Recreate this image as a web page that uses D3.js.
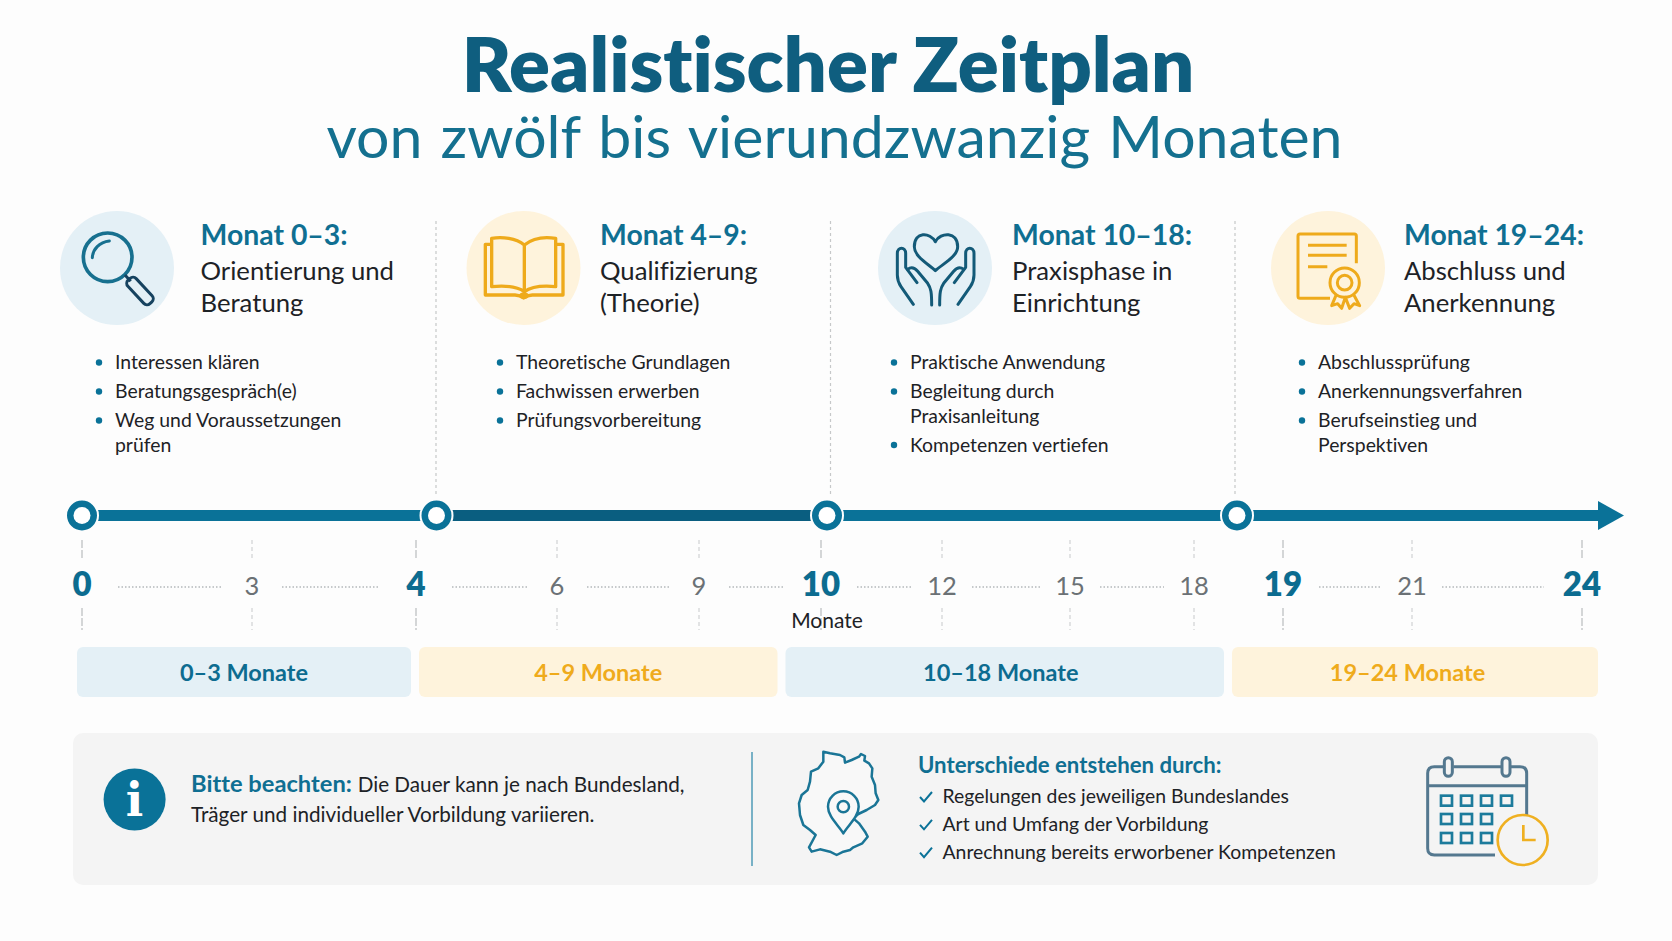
<!DOCTYPE html>
<html lang="de">
<head>
<meta charset="utf-8">
<title>Realistischer Zeitplan</title>
<script src="https://cdn.jsdelivr.net/npm/d3@7"></script>
<style>
  html, body { margin: 0; padding: 0; background: #fdfdfd; }
  svg { display: block; }
  text { font-family: Lato, "Open Sans", sans-serif; fill: #1d2226; font-variant-ligatures: none; }
</style>
</head>
<body>
<div id="chart"></div>
<script>
// --- data ---
const titleMain = "Realistischer Zeitplan";
const titleSub = "von zwölf bis vierundzwanzig Monaten";

const stageHeads = ["Monat 0–3:", "Monat 4–9:", "Monat 10–18:", "Monat 19–24:"];
const stageNames = [["Orientierung und", "Beratung"], ["Qualifizierung", "(Theorie)"], ["Praxisphase in", "Einrichtung"], ["Abschluss und", "Anerkennung"]];
const stageBullets = [
    [["Interessen klären"], ["Beratungsgespräch(e)"], ["Weg und Voraussetzungen", "prüfen"]],
    [["Theoretische Grundlagen"], ["Fachwissen erwerben"], ["Prüfungsvorbereitung"]],
    [["Praktische Anwendung"], ["Begleitung durch", "Praxisanleitung"], ["Kompetenzen vertiefen"]],
    [["Abschlussprüfung"], ["Anerkennungsverfahren"], ["Berufseinstieg und", "Perspektiven"]]
];
const stageStarts = [0, 4, 10, 19];
const timelineEnd = 24;
const tickMonths = [0, 3, 4, 6, 9, 10, 12, 15, 18, 19, 21, 24];
const majorMonths = [0, 4, 10, 19, 24];
const bandLabels = ["0–3 Monate", "4–9 Monate", "10–18 Monate", "19–24 Monate"];
const bandEdges = [0, 4, 10, 19, 25];
const axisLabel = "Monate";
const noteBold = "Bitte beachten:";
const noteLines = ["Die Dauer kann je nach Bundesland,", "Träger und individueller Vorbildung variieren."];
const reasonsHead = "Unterschiede entstehen durch:";
const reasons = ["Regelungen des jeweiligen Bundeslandes", "Art und Umfang der Vorbildung", "Anrechnung bereits erworbener Kompetenzen"];

// --- setup ---
const W = 1672, H = 941;
const teal = "#0a7298", tealDark = "#0a5e80", navy = "#16425f", gold = "#eeaa1b";
const paleBlue = "#e4f0f6", paleGold = "#fef3dc";

const svg = d3.select("#chart").append("svg").attr("width", W).attr("height", H).attr("viewBox", `0 0 ${W} ${H}`);

// the month axis of the picture is not linear, so all scales are piecewise
const xTick = d3.scaleLinear().domain(tickMonths).range([82, 252, 416, 557, 699, 821, 942, 1070, 1194, 1283, 1412, 1582]);
const xNode = d3.scaleLinear().domain([...stageStarts, timelineEnd]).range([82, 436.5, 827, 1237, 1600]);
const xBand = d3.scaleLinear().domain(bandEdges).range([73, 415, 781.5, 1228, 1602]);

const colIcon = [117, 523.5, 935, 1328];
const colHead = [200.5, 600, 1012, 1404];
const colBullet = [115, 516, 910, 1318];
const colSep = [436, 830.5, 1235];
const bandLabelShift = [0, 0, -4, -7.5];
const isBlue = i => i % 2 === 0;

// --- title ---
svg.append("text").attr("x", 828).attr("y", 92).attr("text-anchor", "middle")
    .style("font-size", "76px").style("font-weight", 800).style("fill", "#0f5e7f").text(titleMain);
svg.append("text").attr("x", 834.5).attr("y", 158).attr("text-anchor", "middle")
    .style("font-size", "59px").style("font-weight", 400).style("fill", "#14708f").style("word-spacing", "3px").text(titleSub);

// --- separators ---
svg.selectAll(".sep").data(colSep).enter().append("line").attr("class", "sep")
    .attr("x1", d => d).attr("x2", d => d).attr("y1", 221).attr("y2", 496)
    .attr("stroke", "#c6c8c9").attr("stroke-width", 1.2).attr("stroke-dasharray", "3 3");

// --- icons (drawn in 3x crop units) ---
function iconMagnifier(g) {
    g.append("circle").attr("cx", 143).attr("cy", 142).attr("r", 73).attr("fill", "none").attr("stroke", "#17708f").attr("stroke-width", 11);
    g.append("path").attr("d", "M97,143 C98,118 118,96 148,93").attr("fill", "none").attr("stroke", "#17708f").attr("stroke-width", 9).attr("stroke-linecap", "round");
    g.append("path").attr("d", "M195,195 L212,214").attr("stroke", navy).attr("stroke-width", 9);
    g.append("rect").attr("x", -48).attr("y", -17).attr("width", 96).attr("height", 34).attr("rx", 13)
        .attr("transform", "translate(240,243) rotate(47)").attr("fill", "none").attr("stroke", navy).attr("stroke-width", 9);
}
function iconBook(g) {
    const p = g.append("g").attr("fill", "none").attr("stroke", gold).attr("stroke-width", 10).attr("stroke-linejoin", "round");
    p.append("path").attr("d", "M78,103 H61 V255 H150 Q166,256 176,264 Q186,256 202,255 H294 V103 H274");
    p.append("path").attr("d", "M80,85 C112,80 152,84 178,105 V245 C152,226 112,227 80,230 Z");
    p.append("path").attr("d", "M178,105 C204,84 240,80 272,85 V230 C240,227 204,226 178,245");
    g.append("ellipse").attr("cx", 177).attr("cy", 257).attr("rx", 15).attr("ry", 10).attr("fill", gold);
}
function iconHands(g) {
    const p = g.append("g").attr("fill", "none").attr("stroke", "#135a78").attr("stroke-width", 9).attr("stroke-linejoin", "round").attr("stroke-linecap", "round");
    p.append("path").attr("d", "M181,95 C165,66 118,64 118,110 C118,140 160,162 181,182 C202,162 248,140 248,110 C248,64 197,66 181,95 Z");
    [p.append("g"), p.append("g").attr("transform", "translate(364,0) scale(-1,1)")].forEach(h => {
        h.append("path").attr("d", "M115,283 L78,230 C70,218 67,208 67,195 V130 C67,110 92,110 92,130 V172 L126,218");
        h.append("path").attr("d", "M98,178 C108,170 118,172 128,184 L158,220 C168,234 170,248 170,285");
    });
}
function iconCertificate(g) {
    const p = g.append("g").attr("fill", "none").attr("stroke", gold).attr("stroke-width", 9).attr("stroke-linejoin", "round");
    p.append("path").attr("d", "M265,160 V78 Q265,72 259,72 H96 Q90,72 90,78 V259 Q90,265 96,265 H186");
    p.append("path").attr("d", "M120,106 H236 M120,136 H236 M120,170 H178");
    p.append("circle").attr("cx", 230).attr("cy", 218).attr("r", 44);
    p.append("circle").attr("cx", 230).attr("cy", 218).attr("r", 22);
    p.append("path").attr("d", "M204,256 L191,287 L209,281 L221,295 L232,262 L245,295 L258,281 L275,287 L258,256");
}
function iconGermany(g) {
    g.append("path").attr("d", "M115,35 L135,40 L165,45 L178,52 L180,68 L200,60 L222,50 L228,42 L240,48 L238,62 L252,70 L262,85 L260,110 L270,135 L272,160 L280,180 L270,195 L245,210 L220,222 L205,235 L222,250 L240,275 L248,290 L232,310 L205,322 L195,330 L175,335 L155,345 L135,335 L105,328 L80,335 L72,322 L92,285 L75,270 L55,255 L45,225 L42,190 L50,165 L68,150 L75,125 L78,95 L100,85 L115,65 Z")
        .attr("fill", "#f8f8f8").attr("stroke", "#1a7596").attr("stroke-width", 7.5).attr("stroke-linejoin", "round");
    g.append("path").attr("d", "M175,280 C160,255 129,230 129,200 A46,46 0 1 1 221,200 C221,230 190,255 175,280 Z")
        .attr("fill", "#f8f8f8").attr("stroke", "#1a7596").attr("stroke-width", 7.5).attr("stroke-linejoin", "round");
    g.append("circle").attr("cx", 175).attr("cy", 200).attr("r", 17).attr("fill", "none").attr("stroke", "#1a7596").attr("stroke-width", 7.5);
}
function iconCalendar(g) {
    const grey = "#54788f";
    const p = g.append("g").attr("fill", "none").attr("stroke", grey).attr("stroke-width", 9);
    p.append("path").attr("d", "M240,330 H58 Q38,330 38,310 V85 Q38,65 58,65 H88 M115,65 H260 M287,65 H315 Q335,65 335,85 V215 M38,122 H335");
    [100, 273].forEach(x => p.append("rect").attr("x", x - 12).attr("y", 38).attr("width", 24).attr("height", 56).attr("rx", 12));
    const rows = [[152, 4], [207, 3], [264, 3]];
    rows.forEach(([y, n]) => d3.range(n).forEach(k => {
        g.append("rect").attr("x", 78 + k * 60).attr("y", y).attr("width", 33).attr("height", 30)
            .attr("fill", "none").attr("stroke", "#1c7b9c").attr("stroke-width", 8);
    }));
    g.append("circle").attr("cx", 323).attr("cy", 285).attr("r", 75).attr("fill", "#f4f4f4").attr("stroke", "#efb021").attr("stroke-width", 8);
    g.append("path").attr("d", "M325,240 V285 H362").attr("fill", "none").attr("stroke", "#efb021").attr("stroke-width", 8);
}
const icons = [iconMagnifier, iconBook, iconHands, iconCertificate];
const iconOrigin = [[60, 210], [465, 210], [875, 210], [1268, 210]];

// --- stage columns ---
const cols = svg.selectAll(".stage").data(stageHeads).enter().append("g").attr("class", "stage");
cols.append("circle").attr("cx", (d, i) => colIcon[i]).attr("cy", 268).attr("r", 57)
    .attr("fill", (d, i) => isBlue(i) ? paleBlue : paleGold);
cols.append("g").attr("transform", (d, i) => `translate(${iconOrigin[i][0]},${iconOrigin[i][1]}) scale(${1 / 3})`)
    .each(function (d, i) { icons[i](d3.select(this)); });
cols.append("text").attr("x", (d, i) => colHead[i]).attr("y", 244.5)
    .style("font-size", "28.4px").style("font-weight", 700).style("fill", "#0f6f92").text(d => d);
cols.each(function (d, i) {
    const col = d3.select(this);
    stageNames[i].forEach((line, k) => {
        col.append("text").attr("x", colHead[i]).attr("y", 280 + k * 32).style("font-size", "25.7px").text(line);
    });
    let y = 369;
    stageBullets[i].forEach(lines => {
        col.append("circle").attr("cx", colBullet[i] - 16).attr("cy", y - 6.5).attr("r", 3.2).attr("fill", teal);
        lines.forEach((line, k) => {
            col.append("text").attr("x", colBullet[i]).attr("y", y + k * 24.5).style("font-size", "19.4px").text(line);
        });
        y += 29 + (lines.length - 1) * 24.5;
    });
});

// --- timeline ---
const segColors = [teal, tealDark, teal, teal];
const segEnds = [...stageStarts.slice(1), timelineEnd];
svg.selectAll(".seg").data(stageStarts).enter().append("rect").attr("class", "seg")
    .attr("x", d => xNode(d)).attr("y", 510).attr("height", 11)
    .attr("width", (d, i) => xNode(segEnds[i]) - xNode(d)).attr("fill", (d, i) => segColors[i]);
svg.append("path").attr("fill", teal)
    .attr("d", `M${xNode(timelineEnd) - 2},501 L${xNode(timelineEnd) + 24},515.5 L${xNode(timelineEnd) - 2},530 Z`);
const nodes = svg.selectAll(".node").data(stageStarts).enter().append("g").attr("class", "node")
    .attr("transform", d => `translate(${xNode(d)},515.5)`);
nodes.append("circle").attr("r", 16).attr("fill", teal).attr("stroke", "#fdfdfd").attr("stroke-width", 2);
nodes.append("circle").attr("r", 8.5).attr("fill", "#fff");

// ticks above and below the labels
const isMajor = m => majorMonths.includes(m);
[[540, 560], [608, 630]].forEach(([y1, y2]) => {
    svg.append("g").selectAll("line").data(tickMonths).enter().append("line")
        .attr("x1", d => xTick(d)).attr("x2", d => xTick(d)).attr("y1", y1).attr("y2", y2)
        .attr("stroke", d => isMajor(d) ? "#c2c5c7" : "#d6d8d9").attr("stroke-width", 1.4)
        .attr("stroke-dasharray", d => isMajor(d) ? "8 2" : "4 3");
});
svg.selectAll(".tick-label").data(tickMonths).enter().append("text").attr("class", "tick-label")
    .attr("x", d => xTick(d)).attr("y", d => isMajor(d) ? 596 : 595).attr("text-anchor", "middle")
    .style("font-size", d => isMajor(d) ? "33px" : "25.5px")
    .style("font-weight", d => isMajor(d) ? 800 : 400)
    .style("fill", d => isMajor(d) ? "#0c6c90" : "#6b7175").text(d => d);

// dotted runs between the labels, none in the narrow 18-19 gap
const gaps = d3.pairs(tickMonths).filter(([a, b]) => !(a === 18 && b === 19));
svg.selectAll(".gap").data(gaps).enter().append("line").attr("class", "gap")
    .attr("x1", ([a]) => xTick(a) + (isMajor(a) ? 36 : 30)).attr("x2", ([, b]) => xTick(b) - (isMajor(b) ? 38 : 30))
    .attr("y1", 587).attr("y2", 587)
    .attr("stroke", "#c6c9cb").attr("stroke-width", 2).attr("stroke-dasharray", "1.5 2");
svg.append("text").attr("x", 827).attr("y", 628).attr("text-anchor", "middle").style("font-size", "21px").text(axisLabel);

// --- bands ---
const bandPairs = d3.pairs(bandEdges);
svg.selectAll(".band").data(bandPairs).enter().append("rect").attr("class", "band")
    .attr("x", ([a]) => xBand(a) + 4).attr("y", 647).attr("height", 50).attr("rx", 6)
    .attr("width", ([a, b]) => xBand(b) - xBand(a) - 8)
    .attr("fill", (d, i) => isBlue(i) ? paleBlue : paleGold);
svg.selectAll(".band-label").data(bandPairs).enter().append("text").attr("class", "band-label")
    .attr("x", ([a, b], i) => (xBand(a) + xBand(b)) / 2 + bandLabelShift[i]).attr("y", 681).attr("text-anchor", "middle")
    .style("font-size", "23.5px").style("font-weight", 700)
    .style("fill", (d, i) => isBlue(i) ? "#0d6c90" : "#efab1c").text((d, i) => bandLabels[i]);

// --- note panel ---
svg.append("rect").attr("x", 73).attr("y", 733).attr("width", 1525).attr("height", 152).attr("rx", 10).attr("fill", "#f4f4f4");
svg.append("circle").attr("cx", 134.6).attr("cy", 799.5).attr("r", 31).attr("fill", teal);
svg.append("text").attr("x", 134.6).attr("y", 816).attr("text-anchor", "middle")
    .style("font-family", "'DejaVu Serif', 'Liberation Serif', serif").style("font-size", "46px").style("font-weight", 700).style("fill", "#fff").text("i");
const noteFirst = svg.append("text").attr("x", 191).attr("y", 791.5).style("font-size", "20.7px");
noteFirst.append("tspan").style("font-size", "23.7px").style("font-weight", 700).style("fill", "#0f6f92").text(noteBold + " ");
noteFirst.append("tspan").text(noteLines[0]);
svg.append("text").attr("x", 191).attr("y", 821.5).style("font-size", "20.7px").text(noteLines[1]);
svg.append("line").attr("x1", 752).attr("x2", 752).attr("y1", 752).attr("y2", 866).attr("stroke", "#4f9bb7").attr("stroke-width", 1.5);

svg.append("g").attr("transform", `translate(785,740) scale(${1 / 3})`).call(iconGermany);
svg.append("g").attr("transform", `translate(1415,745) scale(${1 / 3})`).call(iconCalendar);

svg.append("text").attr("x", 918).attr("y", 772.5).style("font-size", "22.2px").style("font-weight", 700).style("fill", "#0f6f92").text(reasonsHead);
const reasonRows = svg.selectAll(".reason").data(reasons).enter().append("g").attr("class", "reason")
    .attr("transform", (d, i) => `translate(0,${803 + i * 27.8})`);
reasonRows.append("path").attr("d", "M920,-6 L924,-1.5 L932,-11").attr("fill", "none").attr("stroke", teal).attr("stroke-width", 2);
reasonRows.append("text").attr("x", 942.5).style("font-size", "19.4px").text(d => d);
</script>
</body>
</html>
